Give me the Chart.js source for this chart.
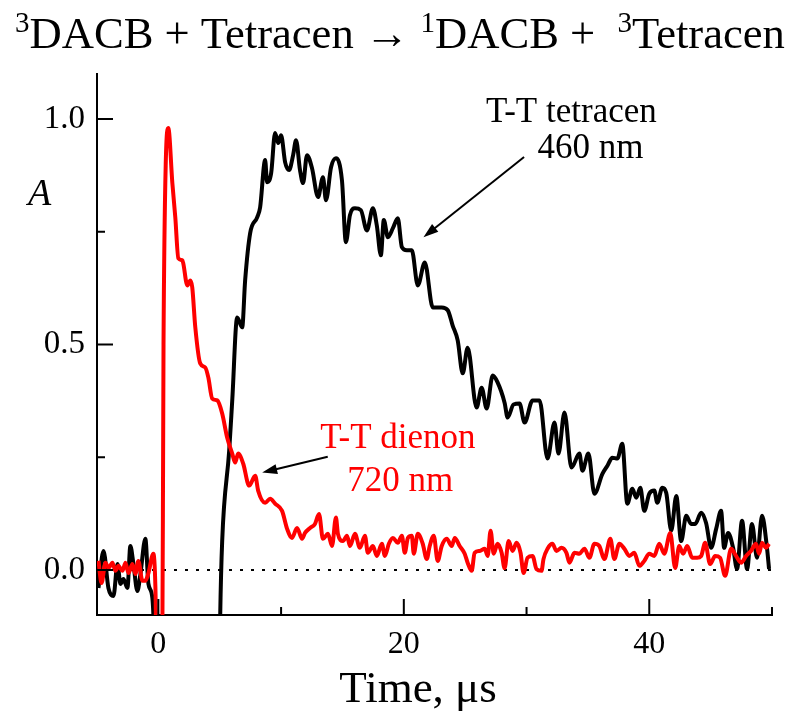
<!DOCTYPE html>
<html>
<head>
<meta charset="utf-8">
<script src="https://cdn.jsdelivr.net/npm/chart.js@4.4.1/dist/chart.umd.min.js"></script>
<style>
  html, body { margin: 0; padding: 0; background: #fff; }
  canvas { display: block; }
</style>
</head>
<body>
<canvas id="kinetics" width="791" height="712"></canvas>
<script>
// ===== DATA (time in microseconds, absorbance) =====

// T-T tetracen, 460 nm
const tetracenTime = [
  -4.88, -4.47, -4.07, -3.66, -3.33, -3.09, -2.85, -2.52, -2.28, -2.03,
  -1.71, -1.46, -1.06, -0.81, -0.49, -0.33, -0.15, 4.9, 5.04, 5.2,
  5.77, 6.02, 6.42, 6.83, 7.07, 7.48, 8.05, 8.29, 8.7, 8.86,
  9.19, 9.51, 9.76, 10.0, 10.33, 10.65, 10.98, 11.22, 11.54, 11.79,
  12.11, 12.52, 13.01, 13.41, 13.66, 14.07, 14.47, 14.96, 15.28, 15.61,
  16.02, 16.5, 16.99, 17.48, 17.8, 18.13, 18.37, 18.7, 19.11, 19.51,
  19.84, 20.24, 20.65, 21.14, 21.71, 22.36, 23.09, 23.58, 23.98, 24.39,
  24.8, 25.2, 25.93, 26.34, 26.75, 27.24, 27.64, 28.21, 28.46, 28.94,
  29.43, 29.84, 30.49, 31.06, 31.71, 32.28, 32.6, 33.09, 33.66, 34.31,
  34.55, 35.04, 35.53, 36.18, 36.59, 36.99, 37.4, 37.8, 38.21, 38.62,
  38.94, 39.27, 39.59, 40.0, 40.41, 40.65, 41.06, 41.38, 41.79, 42.2,
  42.6, 43.01, 43.41, 43.74, 44.23, 44.63, 45.04, 45.45, 45.85, 46.1,
  46.42, 46.83, 47.15, 47.56, 47.97, 48.37, 48.78, 49.19, 49.59, 49.76
];
const tetracenAbs = [
  -0.04, 0.042, -0.04, -0.058, 0.013, -0.031, -0.02, -0.04, 0.053, 0.013,
  -0.047, -0.009, 0.069, -0.031, -0.062, -0.16, -0.4, -0.4, -0.1, 0.064,
  0.264, 0.376, 0.56, 0.538, 0.642, 0.747, 0.782, 0.804, 0.909, 0.86,
  0.88, 0.969, 0.947, 0.964, 0.904, 0.887, 0.92, 0.953, 0.887, 0.858,
  0.92, 0.891, 0.827, 0.871, 0.82, 0.893, 0.913, 0.864, 0.727, 0.787,
  0.802, 0.798, 0.753, 0.802, 0.764, 0.698, 0.776, 0.738, 0.758, 0.78,
  0.716, 0.709, 0.709, 0.631, 0.682, 0.582, 0.582, 0.576, 0.542, 0.509,
  0.436, 0.493, 0.36, 0.404, 0.358, 0.431, 0.416, 0.371, 0.338, 0.367,
  0.369, 0.327, 0.376, 0.376, 0.247, 0.327, 0.258, 0.349, 0.227, 0.258,
  0.22, 0.258, 0.169, 0.213, 0.231, 0.249, 0.247, 0.28, 0.147, 0.18,
  0.16, 0.182, 0.131, 0.169, 0.176, 0.149, 0.182, 0.171, 0.087, 0.164,
  0.064, 0.12, 0.102, 0.102, 0.127, 0.104, 0.049, 0.091, 0.131, 0.049,
  0.082, 0.049, 0.002, 0.109, 0.002, 0.102, 0.027, 0.12, 0.049, 0.002
];

// T-T dienon, 720 nm
const dienonTime = [
  -4.88, -4.63, -4.31, -4.07, -3.74, -3.5, -3.25, -2.93, -2.68, -2.44,
  -2.11, -1.87, -1.63, -1.3, -1.06, -0.81, -0.41, -0.24, -0.08, 0.3,
  0.42, 0.6, 0.81, 1.14, 1.38, 1.63, 1.95, 2.03, 2.36, 2.6,
  2.76, 3.01, 3.41, 3.82, 4.07, 4.39, 4.8, 5.2, 5.61, 6.02,
  6.26, 6.5, 6.91, 7.4, 7.89, 8.13, 8.7, 9.11, 9.51, 10.08,
  10.49, 10.89, 11.3, 11.71, 11.95, 12.36, 12.76, 13.09, 13.41, 13.82,
  14.15, 14.47, 14.63, 15.04, 15.37, 15.61, 16.02, 16.42, 16.83, 17.07,
  17.48, 17.8, 18.21, 18.46, 18.78, 19.11, 19.51, 19.84, 20.08, 20.33,
  20.65, 20.81, 21.14, 21.54, 21.87, 22.11, 22.44, 22.76, 23.09, 23.5,
  23.9, 24.15, 24.55, 24.96, 25.2, 25.53, 25.77, 26.18, 26.59, 26.83,
  27.07, 27.32, 27.64, 27.97, 28.21, 28.54, 28.86, 29.19, 29.51, 29.76,
  30.08, 30.49, 30.81, 31.22, 31.38, 31.71, 32.11, 32.44, 32.85, 33.25,
  33.5, 33.9, 34.31, 34.72, 35.12, 35.53, 35.93, 36.34, 36.83, 37.15,
  37.56, 37.97, 38.37, 38.78, 39.19, 39.59, 40.0, 40.41, 40.81, 41.22,
  41.71, 42.11, 42.44, 42.76, 43.09, 43.5, 43.9, 44.23, 44.55, 44.96,
  45.37, 45.77, 46.18, 46.67, 47.07, 47.48, 47.89, 48.29, 48.7, 48.94,
  49.19, 49.51, 49.76
];
const dienonAbs = [
  0.02, -0.029, 0.016, 0.004, 0.016, -0.002, 0.009, -0.002, 0.016, -0.007,
  0.013, -0.009, 0.02, -0.024, -0.024, -0.007, 0.036, -0.04, -0.3, -0.3,
  0.5, 0.9, 0.98, 0.858, 0.782, 0.691, 0.687, 0.68, 0.631, 0.642,
  0.627, 0.538, 0.458, 0.449, 0.427, 0.38, 0.376, 0.347, 0.293, 0.258,
  0.238, 0.258, 0.236, 0.187, 0.209, 0.176, 0.149, 0.158, 0.147, 0.131,
  0.091, 0.071, 0.093, 0.069, 0.082, 0.093, 0.102, 0.124, 0.069, 0.08,
  0.053, 0.116, 0.08, 0.064, 0.076, 0.053, 0.08, 0.049, 0.076, 0.038,
  0.053, 0.031, 0.058, 0.031, 0.058, 0.071, 0.06, 0.076, 0.038, 0.071,
  0.076, 0.036, 0.08, 0.058, 0.024, 0.053, 0.076, 0.02, 0.053, 0.069,
  0.053, 0.071, 0.053, 0.036, 0.016, -0.002, 0.038, 0.042, 0.047, 0.031,
  0.087, 0.036, 0.058, 0.038, 0.004, 0.064, 0.042, 0.06, 0.038, -0.007,
  0.027, 0.031, 0.002, -0.002, 0.024, 0.047, 0.058, 0.042, 0.049, 0.038,
  0.016, 0.038, 0.036, 0.047, 0.027, 0.058, 0.053, 0.024, 0.069, 0.024,
  0.058, 0.047, 0.031, 0.038, 0.009, 0.02, 0.036, 0.031, 0.058, 0.036,
  0.082, 0.004, 0.053, 0.036, 0.053, 0.027, 0.027, 0.031, 0.06, 0.013,
  0.031, 0.027, -0.013, 0.047, 0.031, 0.016, 0.031, 0.042, 0.058, 0.036,
  0.06, 0.049, 0.058
];

const xRange = [-5, 50];
const yRange = [-0.1, 1.1];
const xTicks = [0, 20, 40];
const xMinorTicks = [10, 30, 50];
const yTicks = [0, 0.5, 1.0];
const yMinorTicks = [0.25, 0.75];

const SERIF = '"Liberation Serif", "Times New Roman", serif';


// ================= HELPERS =================

function toPoints(xs, ys) {
  return xs.map((x, i) => ({ x: x, y: ys[i] }));
}

function arrow(ctx, x1, y1, x2, y2, color) {
  const ang = Math.atan2(y2 - y1, x2 - x1);
  const head = 15, half = 5;
  ctx.strokeStyle = color;
  ctx.fillStyle = color;
  ctx.lineWidth = 2;
  ctx.beginPath();
  ctx.moveTo(x1, y1);
  ctx.lineTo(x2 - Math.cos(ang) * head * 0.8, y2 - Math.sin(ang) * head * 0.8);
  ctx.stroke();
  ctx.beginPath();
  ctx.moveTo(x2, y2);
  ctx.lineTo(x2 - Math.cos(ang) * head - Math.sin(ang) * half,
             y2 - Math.sin(ang) * head + Math.cos(ang) * half);
  ctx.lineTo(x2 - Math.cos(ang) * head + Math.sin(ang) * half,
             y2 - Math.sin(ang) * head - Math.cos(ang) * half);
  ctx.closePath();
  ctx.fill();
}


// ================= OVERLAY PLUGIN =================

const overlay = {
  id: "overlay",
  afterDraw(chart) {
    const ctx = chart.ctx;
    const xs = chart.scales.x;
    const ys = chart.scales.y;
    const area = chart.chartArea;
    const px = v => xs.getPixelForValue(v);
    const py = v => ys.getPixelForValue(v);

    ctx.save();

    // inward ticks
    ctx.strokeStyle = "#000";
    ctx.lineWidth = 2;
    ctx.beginPath();
    xTicks.forEach(v => { ctx.moveTo(px(v), area.bottom); ctx.lineTo(px(v), area.bottom - 16); });
    xMinorTicks.forEach(v => { ctx.moveTo(px(v), area.bottom); ctx.lineTo(px(v), area.bottom - 8); });
    yTicks.forEach(v => { ctx.moveTo(area.left, py(v)); ctx.lineTo(area.left + 16, py(v)); });
    yMinorTicks.forEach(v => { ctx.moveTo(area.left, py(v)); ctx.lineTo(area.left + 8, py(v)); });
    ctx.stroke();

    // annotations
    ctx.font = "35px " + SERIF;
    ctx.textAlign = "left";
    ctx.textBaseline = "alphabetic";
    ctx.fillStyle = "#000";
    ctx.fillText("T-T tetracen", px(26.7), py(0.993));
    ctx.fillText("460 nm", px(30.9), py(0.913));
    arrow(ctx, px(29.8), py(0.916), px(21.6), py(0.738), "#000");

    ctx.fillStyle = "#ff0000";
    ctx.fillText("T-T dienon", px(13.2), py(0.271));
    ctx.fillText("720 nm", px(15.4), py(0.176));
    arrow(ctx, px(13.8), py(0.251), px(8.46), py(0.216), "#000");

    // y label
    ctx.fillStyle = "#000";
    ctx.font = "italic 38px " + SERIF;
    ctx.fillText("A", 28, 205);

    // x label
    ctx.font = "45px " + SERIF;
    ctx.textAlign = "center";
    ctx.fillText("Time, \u03bcs", 418, 702);

    // title with superscripts
    const parts = [
      { t: "3", sup: true }, { t: "DACB + Tetracen \u2192 " },
      { t: "1", sup: true }, { t: "DACB +  " },
      { t: "3", sup: true }, { t: "Tetracen" }
    ];
    const base = 40;
    const font = (p, s) => (p.sup ? Math.round(s * 0.66) : s) + "px " + SERIF;
    let total = 0;
    parts.forEach(p => { ctx.font = font(p, base); total += ctx.measureText(p.t).width; });
    const size = base * 770 / total;
    let x = 15;
    ctx.textAlign = "left";
    parts.forEach(p => {
      ctx.font = font(p, size);
      ctx.fillText(p.t, x, p.sup ? 48 - size * 0.36 : 48);
      x += ctx.measureText(p.t).width;
    });

    ctx.restore();
  }
};


// ================= CHART =================

new Chart(document.getElementById("kinetics"), {
  type: "line",
  data: {
    datasets: [
      {
        label: "T-T dienon 720 nm",
        data: toPoints(dienonTime, dienonAbs),
        borderColor: "#ff0000",
        borderWidth: 4,
        pointRadius: 0,
        cubicInterpolationMode: "monotone"
      },
      {
        label: "T-T tetracen 460 nm",
        data: toPoints(tetracenTime, tetracenAbs),
        borderColor: "#000000",
        borderWidth: 4,
        pointRadius: 0,
        cubicInterpolationMode: "monotone"
      },
      {
        label: "zero",
        data: toPoints(xRange, [0, 0]),
        borderColor: "#000000",
        borderWidth: 2,
        borderDash: [3, 8],
        pointRadius: 0
      }
    ]
  },
  options: {
    responsive: false,
    animation: false,
    devicePixelRatio: 1,
    layout: { padding: { left: 0, right: 19, top: 74, bottom: 0 } },
    plugins: {
      legend: { display: false },
      tooltip: { enabled: false },
      title: { display: false }
    },
    scales: {
      x: {
        type: "linear",
        min: xRange[0],
        max: xRange[1],
        afterBuildTicks: scale => { scale.ticks = xTicks.map(v => ({ value: v })); },
        afterFit: scale => { scale.height = 97; },
        grid: { display: false, drawTicks: false },
        border: { display: true, color: "#000", width: 2 },
        ticks: {
          color: "#000",
          font: { family: SERIF, size: 32 },
          padding: 10,
          maxRotation: 0,
          callback: v => String(v)
        }
      },
      y: {
        type: "linear",
        min: yRange[0],
        max: yRange[1],
        afterBuildTicks: scale => { scale.ticks = yTicks.map(v => ({ value: v })); },
        afterFit: scale => { scale.width = 97; },
        grid: { display: false, drawTicks: false },
        border: { display: true, color: "#000", width: 2 },
        ticks: {
          color: "#000",
          font: { family: SERIF, size: 33 },
          padding: 12,
          callback: v => v.toFixed(1)
        }
      }
    }
  },
  plugins: [overlay]
});
</script>
</body>
</html>
